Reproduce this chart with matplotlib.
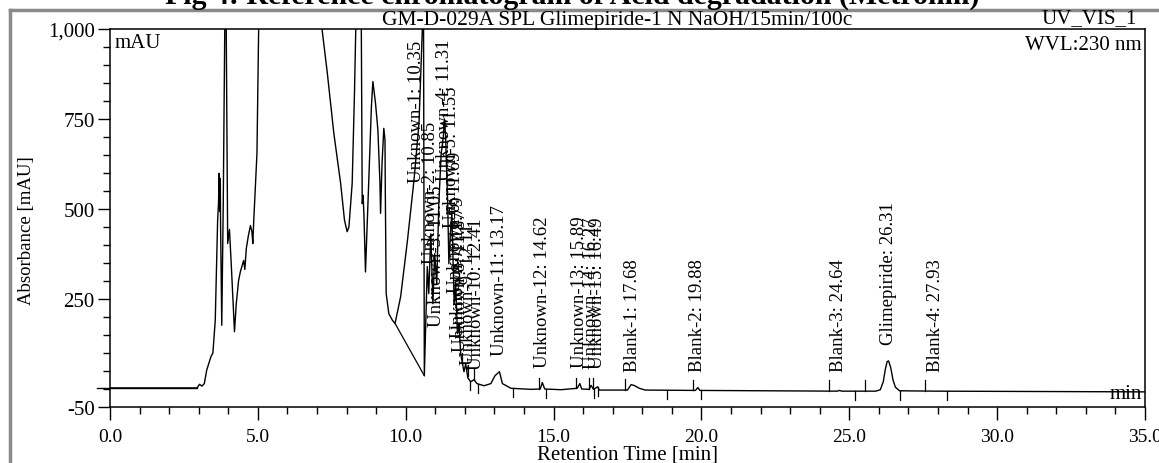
import matplotlib
matplotlib.use("Agg")
import matplotlib.pyplot as plt
from matplotlib.ticker import FixedLocator, MultipleLocator
import numpy as np

plt.rcParams['font.family'] = ['Liberation Serif', 'DejaVu Serif']

# chromatogram trace (min, mAU)
trace_t = [-0.45, 2.94, 3.03, 3.11, 3.19, 3.27, 3.41, 3.48, 3.56, 3.64, 3.67, 3.69, 3.71,
           3.73, 3.74, 3.78, 3.83, 3.88, 3.90, 3.93, 3.98, 4.04, 4.10, 4.21, 4.27, 4.35,
           4.41, 4.47, 4.52, 4.56, 4.61, 4.68, 4.75, 4.80, 4.83, 4.86, 4.97, 5.03, 5.10,
           7.10, 7.18, 7.35, 7.57, 7.80, 7.93, 8.02, 8.08, 8.19, 8.27, 8.31, 8.40, 8.49,
           8.53, 8.56, 8.59, 8.64, 8.70, 8.76, 8.84, 8.89, 8.98, 9.06, 9.13, 9.15, 9.20,
           9.26, 9.30, 9.31, 9.34, 9.43, 9.55, 9.64, 9.83, 10.06, 10.28, 10.45, 10.57,
           10.60, 10.63, 10.73, 10.78, 10.85, 10.92, 10.98, 11.05, 11.12, 11.20, 11.27,
           11.31, 11.35, 11.42, 11.46, 11.51, 11.56, 11.64, 11.69, 11.75, 11.80, 11.86,
           11.97, 12.03, 12.10, 12.20, 12.31, 12.41, 12.65, 12.88, 13.02, 13.17, 13.27,
           13.56, 14.24, 14.55, 14.62, 14.70, 15.25, 15.80, 15.89, 15.95, 16.20, 16.27,
           16.35, 16.49, 16.55, 17.50, 17.62, 17.72, 17.90, 18.10, 19.80, 19.88, 19.95,
           24.60, 24.66, 24.75, 25.90, 26.05, 26.15, 26.22, 26.28, 26.33, 26.40, 26.48,
           26.56, 26.70, 27.93, 35.0]
trace_a = [3, 3, 13, 8, 15, 52, 89, 100, 191, 469, 515, 599, 493,
           585, 455, 177, 515, 1016, 1150, 1016, 404, 443, 348, 159, 237, 302,
           326, 343, 357, 332, 390, 426, 454, 437, 404, 465, 654, 1016, 1200,
           1200, 993, 877, 710, 571, 469, 437, 450, 571, 830, 994, 1150, 1150,
           515, 538, 478, 325, 460, 599, 784, 854, 793, 719, 571, 488, 627,
           724, 691, 552, 265, 209, 191, 182, 257, 413, 580, 738, 1016,
           1150, 37, 340, 265, 431, 237, 376, 292, 515, 654, 700,
           750, 700, 515, 348, 431, 487, 237, 292, 154, 182, 98,
           48, 70, 31, 20, 26, 15, 9, 15, 37, 48, 15,
           2, -1, 0, 18, 0, -2, 2, 15, 0, -1, 10,
           -1, 6, -3, -3, 12, 10, 2, -3, -4, 4, -4,
           -6, -4, -6, -6, -2, 20, 55, 76, 78, 60, 25,
           5, -5, -6, -8]

# integration baseline under Unknown-1
base_t = [9.64, 10.63]
base_a = [182, 37]

# peak labels
label_names = ['Unknown-1', 'Unknown-2', 'Unknown-3', 'Unknown-4', 'Unknown-5', 'Unknown-6',
               'Unknown-7', 'Unknown-8', 'Unknown-9', 'Unknown-10', 'Unknown-11', 'Unknown-12',
               'Unknown-13', 'Unknown-14', 'Unknown-15', 'Blank-1', 'Blank-2', 'Blank-3',
               'Glimepiride', 'Blank-4']
label_rt = [10.35, 10.85, 11.05, 11.31, 11.55, 11.69, 11.79, 11.87, 12.11, 12.41, 13.17, 14.62,
            15.89, 16.27, 16.49, 17.68, 19.88, 24.64, 26.31, 27.93]
label_y = [575, 350, 175, 580, 450, 270, 145, 105, 70, 55, 95, 62, 62, 58, 58, 50, 50, 50, 125, 50]

# peak start (up) / end (down) markers
start_t = [11.92, 12.09, 12.32, 14.50, 15.76, 16.21, 16.33, 17.40, 19.73, 24.33, 25.53, 27.56]
end_t = [12.18, 12.43, 13.62, 14.75, 16.38, 16.50, 18.85, 20.00, 25.20, 26.70, 28.30]

fig = plt.figure(figsize=(11.59, 4.64), dpi=100)
ax = fig.add_axes([0.0949, 0.1207, 0.8930, 0.8147])

ax.plot(trace_t, trace_a, color='black', lw=1.0)
# flat lead-in of the trace runs a little past the y axis, as in the print
ax.plot(trace_t[:2], trace_a[:2], color='black', lw=1.0, clip_on=False)
ax.plot(base_t, base_a, color='black', lw=0.9)

for t in start_t:
    y0 = np.interp(t, trace_t, trace_a)
    ax.plot([t, t], [y0, y0 + 30], color='black', lw=0.9)
for t in end_t:
    y0 = np.interp(t, trace_t, trace_a)
    ax.plot([t, t], [y0, y0 - 25], color='black', lw=0.9)

for name, rt, yb in zip(label_names, label_rt, label_y):
    ax.text(rt, yb, f'{name}: {rt:.2f}', rotation=90, ha='center', va='bottom', fontsize=13.5)

ax.set_xlim(0, 35)
ax.set_ylim(-50, 1000)
ax.set_xticks(np.arange(0, 36, 5))
ax.set_xticklabels([f'{v:.1f}' for v in np.arange(0, 36, 5)], fontsize=14)
ax.xaxis.set_minor_locator(MultipleLocator(1))
ax.yaxis.set_major_locator(FixedLocator([-50, 250, 500, 750, 1000]))
ax.yaxis.set_minor_locator(FixedLocator(list(range(0, 1000, 50))))
ax.set_yticklabels(['-50', '250', '500', '750', '1,000'], fontsize=15)
ax.tick_params(which='major', direction='out', length=9, width=1, pad=2)
ax.tick_params(axis='x', which='major', pad=6)
ax.tick_params(which='minor', direction='out', length=5, width=1)
for s in ax.spines.values():
    s.set_linewidth(1.1)

ax.set_xlabel('Retention Time [min]', fontsize=15, labelpad=0)
ax.set_ylabel('Absorbance [mAU]', fontsize=13.5)
ax.yaxis.set_label_coords(-0.072, 0.47)

ax.text(0.004, 0.99, 'mAU', transform=ax.transAxes, ha='left', va='top', fontsize=15)
ax.text(0.997, 0.985, 'WVL:230 nm', transform=ax.transAxes, ha='right', va='top', fontsize=15)
ax.text(0.997, 0.01, 'min', transform=ax.transAxes, ha='right', va='bottom', fontsize=15)

fig.text(617 / 1159, 1 - 21 / 464, 'GM-D-029A SPL Glimepiride-1 N NaOH/15min/100c',
         ha='center', va='center', fontsize=15.5)
fig.text(1137 / 1159, 1 - 19 / 464, 'UV_VIS_1', ha='right', va='center', fontsize=15)
fig.text(572 / 1159, 1 - 4 / 464, 'Fig 4: Reference chromatogram of Acid degradation (Metrohm)',
         ha='center', va='baseline', fontsize=21.5, fontweight='bold')

# grey page frame of the scan
fig.add_artist(plt.Line2D([10 / 1159, 1.0], [1 - 11 / 464, 1 - 11 / 464],
                          transform=fig.transFigure, color='#8a8a8a', lw=2.5))
fig.add_artist(plt.Line2D([10 / 1159, 10 / 1159], [0.0, 1 - 11 / 464],
                          transform=fig.transFigure, color='#8a8a8a', lw=2.5))

fig.savefig('out.png', dpi=100)
